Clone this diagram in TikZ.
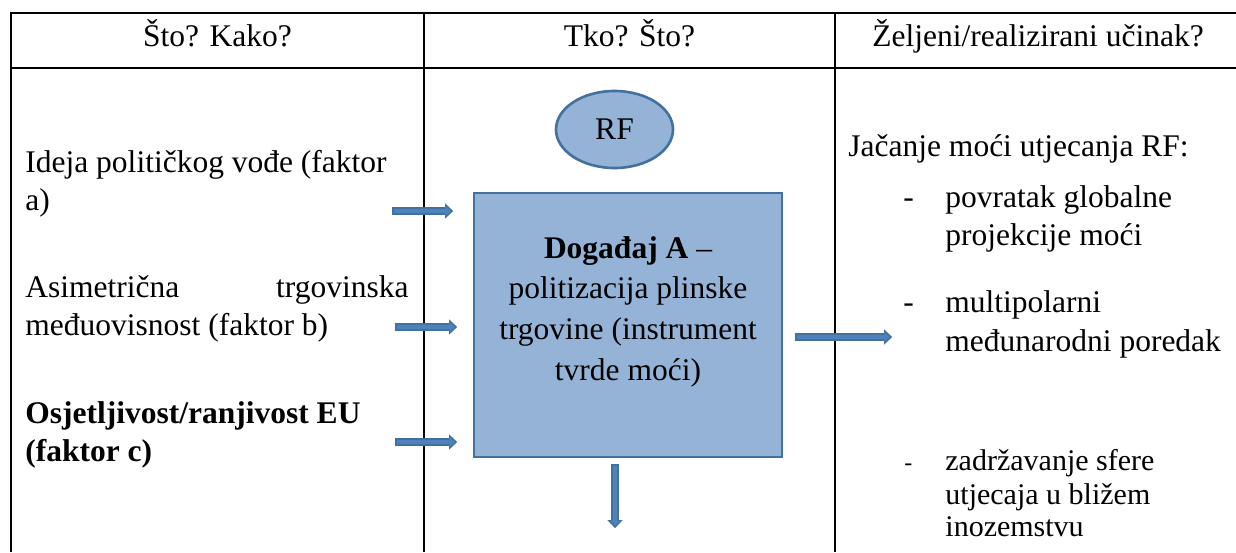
\documentclass[tikz,border=0pt]{standalone}
\usepackage{fontspec}
\setmainfont{Liberation Serif}
\usetikzlibrary{arrows.meta,shapes.geometric}
\definecolor{boxfill}{HTML}{95B3D7}
\definecolor{boxline}{HTML}{41719C}
\definecolor{arrfill}{HTML}{4F81BD}
\definecolor{arrline}{HTML}{41719C}
\begin{document}
\begin{tikzpicture}[x=0.5pt,y=-0.5pt,
  txt/.style={inner sep=0pt, font=\fontsize{15.75}{19}\selectfont, anchor=base west},
  txtr/.style={txt, anchor=base east},
  txtc/.style={txt, anchor=base},
  txts/.style={inner sep=0pt, font=\fontsize{15}{18}\selectfont, anchor=base west},
  gridline/.style={line width=1.3pt, black},
  shape box/.style={draw=boxline, fill=boxfill, line width=1.3pt},
  ell/.style={shape box, ellipse, minimum width=58.5pt, minimum height=38.5pt, inner sep=0pt,
    font=\fontsize{15.75}{19}\selectfont},
  rectbox/.style={shape box, rectangle, minimum width=154pt, minimum height=132pt, inner sep=0pt},
  blockarr/.style={draw=arrline, line width=3.7pt,
    -{Triangle[length=4pt,width=7.6pt,line width=0.1pt]},
    postaction={draw=arrfill, line width=1.8pt, shorten >=1.1pt, shorten <=0.8pt,
      -{Triangle[length=2.6pt,width=4.6pt,line width=0.1pt]}}}
]
\useasboundingbox (0,0) rectangle (1236,552);
\fill[white] (0,0) rectangle (1236,552);

% table grid
\draw[gridline] (1236,13) -- (11,13) -- (11,552);
\draw[gridline] (11,68) -- (1236,68);
\draw[gridline] (424,13) -- (424,552);
\draw[gridline] (835,13) -- (835,552);

% headers
\node[txtc] (h1) at (217.5,46) {Što? Kako?};
\node[txtc] (h2) at (629.5,46) {Tko? Što?};
\node[txtc] (h3) at (1038,46) {Željeni/realizirani učinak?};

% left column
\node[txt] (fa1) at (25,172) {Ideja političkog vođe (faktor};
\node[txt] (fa2) at (25,210) {a)};
\node[txt] (fb1) at (25,297) {Asimetrična};
\node[txtr] (fb1r) at (409,297) {trgovinska};
\node[txt] (fb2) at (25,335) {međuovisnost (faktor b)};
\node[txt, font=\fontsize{15.75}{19}\selectfont\bfseries] (fc1) at (25,423) {Osjetljivost/ranjivost EU};
\node[txt, font=\fontsize{15.75}{19}\selectfont\bfseries] (fc2) at (25,461) {(faktor c)};

% middle column
\node[ell] (rf) at (614.5,129.5) {RF};
\node[rectbox] (box) at (628,325) {};
\node[txtc] (bt1) at (628,258) {\textbf{Događaj A} –};
\node[txtc] (bt2) at (628,298) {politizacija plinske};
\node[txtc] (bt3) at (628,339) {trgovine (instrument};
\node[txtc] (bt4) at (628,380) {tvrde moći)};

% right column
\node[txt] (r0) at (848,156) {Jačanje moći utjecanja RF:};
\node[txt] (d1) at (903,207) {-};
\node[txt] (r1a) at (945,207) {povratak globalne};
\node[txt] (r1b) at (945,245) {projekcije moći};
\node[txt] (d2) at (903,312) {-};
\node[txt] (r2a) at (945,312) {multipolarni};
\node[txt] (r2b) at (945,351) {međunarodni poredak};
\node[txts, font=\fontsize{12}{14}\selectfont] (d3) at (904,470) {-};
\node[txts] (r3a) at (945,470) {zadržavanje sfere};
\node[txts] (r3b) at (945,504) {utjecaja u bližem};
\node[txts] (r3c) at (945,536) {inozemstvu};

% arrows
\coordinate (a1s) at (392,211);
\coordinate (a1e) at (453,211);
\coordinate (a2s) at (395,327);
\coordinate (a2e) at (457,327);
\coordinate (a3s) at (395,442);
\coordinate (a3e) at (457,442);
\coordinate (a4s) at (795,337);
\coordinate (a4e) at (892,337);
\coordinate (a5s) at (615,464);
\coordinate (a5e) at (615,528);
\draw[blockarr] (a1s) -- (a1e);
\draw[blockarr] (a2s) -- (a2e);
\draw[blockarr] (a3s) -- (a3e);
\draw[blockarr] (a4s) -- (a4e);
\draw[blockarr] (a5s) -- (a5e);
\end{tikzpicture}
\end{document}
